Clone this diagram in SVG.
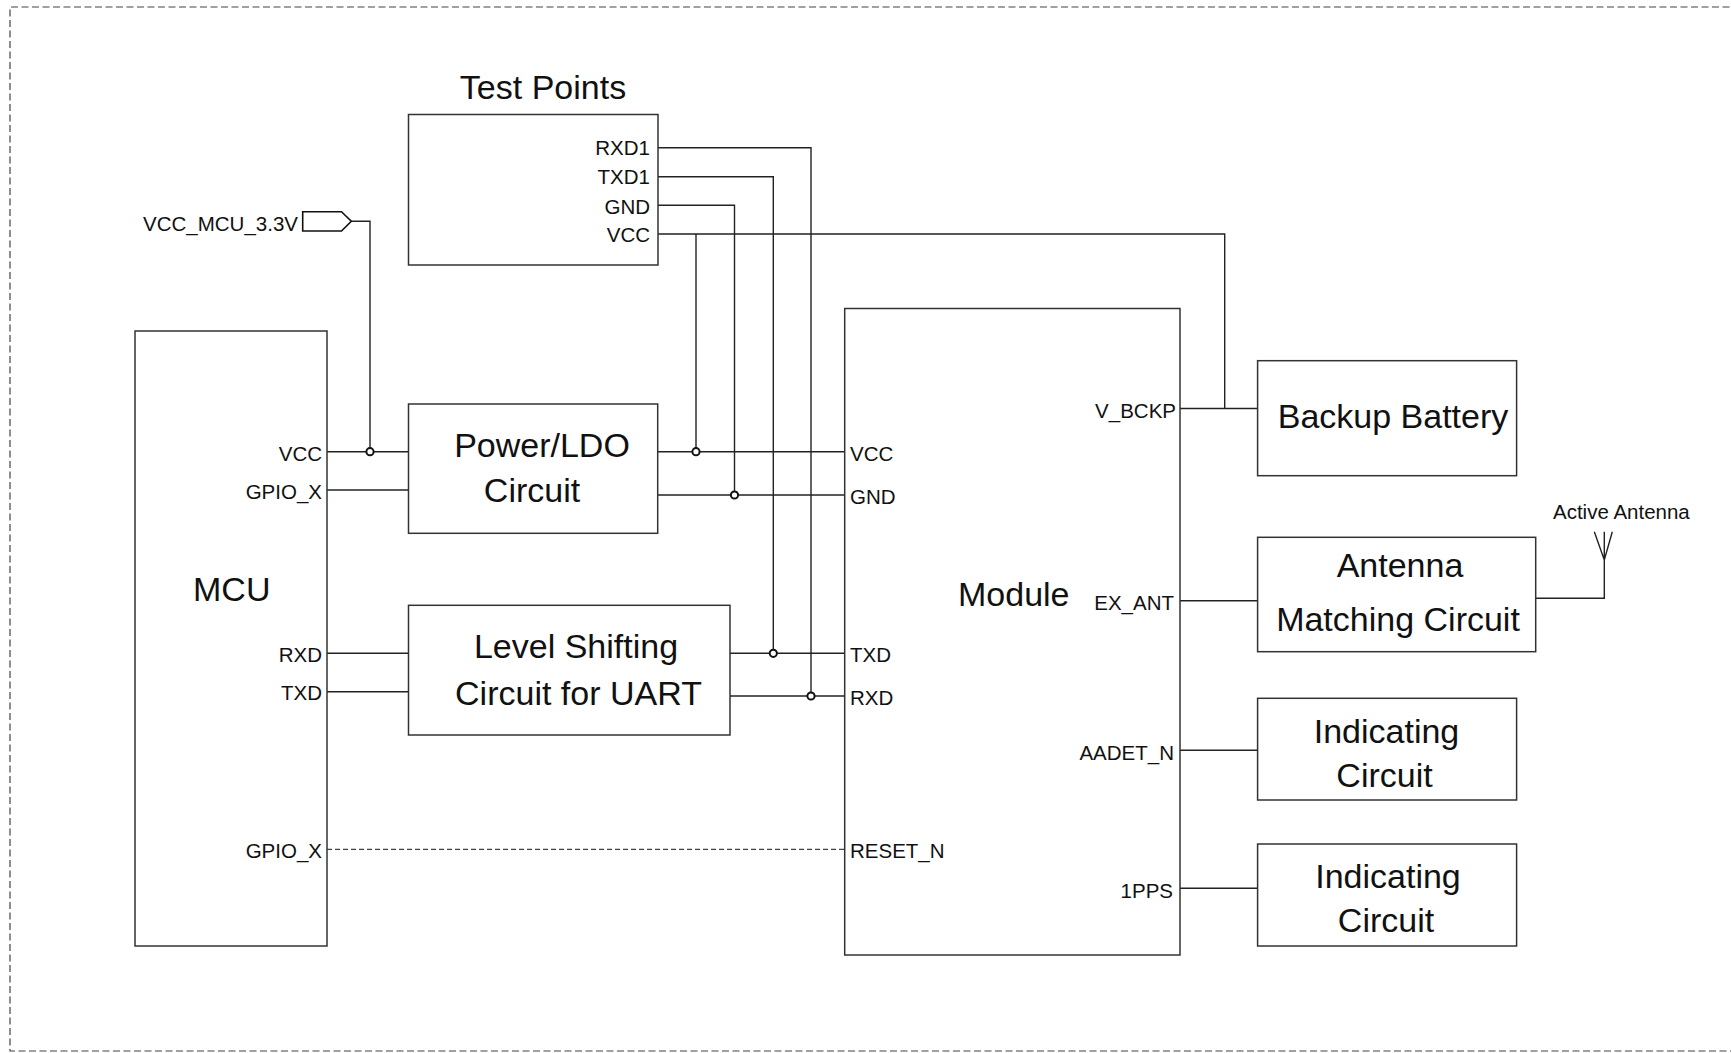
<svg xmlns="http://www.w3.org/2000/svg" width="1731" height="1053" viewBox="0 0 1731 1053">
<defs>
<style>
.box{fill:#fff;stroke:#333;stroke-width:1.5}
.w{fill:none;stroke:#222;stroke-width:1.4}
.dash{fill:none;stroke:#444;stroke-width:1.3;stroke-dasharray:5 3}
.frame{fill:none;stroke:#444;stroke-width:1.2;stroke-dasharray:7 3.5}
.dot{fill:#fff;stroke:#111;stroke-width:2}
.t{font-family:"Liberation Sans",Arial,sans-serif;fill:#111}
.big{font-size:34px}
.pin{font-size:20.5px}
.end{text-anchor:end}
.mid{text-anchor:middle}
</style>
</defs>
<rect width="1731" height="1053" fill="#fff"/>
<path class="frame" d="M1740 7 H10 V1051 H1740"/>

<g id="connectors">
<path class="w" d="M351 221.3 H370 V451.7"/>
<path class="w" d="M327 451.7 H408.5"/>
<path class="w" d="M327 490 H408.5"/>
<path class="w" d="M327 653.3 H408.5"/>
<path class="w" d="M327 691.7 H408.5"/>
<path class="dash" d="M327 849.3 H844.7"/>
<path class="w" d="M657.7 451.7 H844.7"/>
<path class="w" d="M657.7 495 H844.7"/>
<path class="w" d="M730 653.3 H844.7"/>
<path class="w" d="M730 696 H844.7"/>
<path class="w" d="M658 147.7 H811 V696"/>
<path class="w" d="M658 176.7 H773.3 V653.3"/>
<path class="w" d="M658 205.3 H734.5 V495"/>
<path class="w" d="M658 234 H1224.7 V408.5"/>
<path class="w" d="M696 234 V451.7"/>
<path class="w" d="M1180 408.5 H1257.6"/>
<path class="w" d="M1180 600.7 H1257.6"/>
<path class="w" d="M1180 750.3 H1258"/>
<path class="w" d="M1180 888.3 H1257.6"/>
<path class="w" d="M1535.7 598.3 H1604.3 V531.7 M1594.3 531.7 L1604.3 560 L1612.3 531.7"/>
<circle class="dot" cx="370" cy="451.7" r="3.6"/>
<circle class="dot" cx="696" cy="451.7" r="3.6"/>
<circle class="dot" cx="734.5" cy="495" r="3.6"/>
<circle class="dot" cx="773.3" cy="653.3" r="3.6"/>
<circle class="dot" cx="811" cy="696" r="3.6"/>
</g>

<g id="vcc-port">
<path class="w" d="M302.7 211.7 H341.5 L351.3 221.3 L341.5 231 H302.7 Z" style="stroke:#111;stroke-width:1.6"/>
<text class="t pin end" x="298" y="231">VCC_MCU_3.3V</text>
</g>

<g id="test-points">
<rect class="box" x="408.5" y="114.5" width="249.5" height="150.5"/>
<text class="t big mid" x="543" y="99">Test Points</text>
<text class="t pin end" x="650" y="155">RXD1</text>
<text class="t pin end" x="650" y="184">TXD1</text>
<text class="t pin end" x="650" y="214">GND</text>
<text class="t pin end" x="650" y="242">VCC</text>
</g>

<g id="mcu">
<rect class="box" x="135" y="331" width="192" height="615"/>
<text class="t big" x="193" y="601">MCU</text>
<text class="t pin end" x="322" y="461">VCC</text>
<text class="t pin end" x="322" y="499">GPIO_X</text>
<text class="t pin end" x="322" y="662">RXD</text>
<text class="t pin end" x="322" y="700">TXD</text>
<text class="t pin end" x="322" y="858">GPIO_X</text>
</g>

<g id="power-ldo">
<rect class="box" x="408.5" y="404" width="249.2" height="129.3"/>
<text class="t big mid" x="542" y="457">Power/LDO</text>
<text class="t big mid" x="532" y="502">Circuit</text>
</g>

<g id="level-shifting">
<rect class="box" x="408.5" y="605.3" width="321.5" height="129.7"/>
<text class="t big mid" x="576" y="658">Level Shifting</text>
<text class="t big mid" x="578.5" y="705">Circuit for UART</text>
</g>

<g id="module">
<rect class="box" x="844.7" y="308.5" width="335.3" height="646.5"/>
<text class="t big" x="958" y="606">Module</text>
<text class="t pin" x="850" y="461">VCC</text>
<text class="t pin" x="850" y="504">GND</text>
<text class="t pin" x="850" y="662">TXD</text>
<text class="t pin" x="850" y="705">RXD</text>
<text class="t pin" x="850" y="858">RESET_N</text>
<text class="t pin end" x="1176" y="418">V_BCKP</text>
<text class="t pin end" x="1174" y="610">EX_ANT</text>
<text class="t pin end" x="1174" y="760">AADET_N</text>
<text class="t pin end" x="1173" y="898">1PPS</text>
</g>

<g id="backup-battery">
<rect class="box" x="1257.6" y="360.7" width="259" height="115"/>
<text class="t big mid" x="1393" y="428">Backup Battery</text>
</g>

<g id="antenna-matching">
<rect class="box" x="1257.6" y="537.3" width="278.1" height="114.4"/>
<text class="t big mid" x="1400" y="577">Antenna</text>
<text class="t big mid" x="1398" y="631">Matching Circuit</text>
</g>

<g id="active-antenna">
<text class="t pin" x="1553" y="519">Active Antenna</text>
</g>

<g id="indicating-1">
<rect class="box" x="1257.6" y="698.3" width="259" height="101.7"/>
<text class="t big mid" x="1386.5" y="743">Indicating</text>
<text class="t big mid" x="1384.5" y="787">Circuit</text>
</g>

<g id="indicating-2">
<rect class="box" x="1257.6" y="844" width="259" height="102"/>
<text class="t big mid" x="1388" y="888">Indicating</text>
<text class="t big mid" x="1386" y="932">Circuit</text>
</g>
</svg>
